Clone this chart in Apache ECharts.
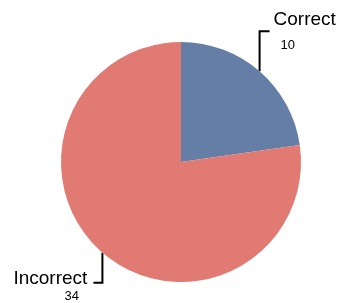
<!DOCTYPE html>
<html>
<head>
<meta charset="utf-8">
<script src="https://cdn.jsdelivr.net/npm/echarts@6/dist/echarts.min.js"></script>
<style>
  html, body { margin: 0; padding: 0; background: #fff; }
  #plot { width: 342px; height: 303px; }
</style>
</head>
<body>
<div id="plot"></div>
<script>
// data
const categories = ['Correct', 'Incorrect'];
const counts = [10, 34];
const sliceColors = ['#647ea6', '#e07a72'];

// guide line bends + label placement, relative to the slice edge point
const guides = [
    {dy: -40, dx: 10, lx: 14, ly: -63, pad: 7, gap: 31},
    {dy: 30, dx: -9, lx: -89, ly: 15, pad: 51, gap: 13}
];

let chart = echarts.init(document.getElementById('plot'));

let pieData = categories.map(function (name, i) {
    return {
        name: name,
        value: counts[i],
        itemStyle: {color: sliceColors[i]},
        label: {
            rich: {
                n: {fontSize: 19, lineHeight: 22, color: '#000', fontFamily: 'Liberation Sans, Arial'},
                v: {fontSize: 13, lineHeight: guides[i].gap, color: '#000', fontFamily: 'Liberation Sans, Arial',
                    padding: [0, 0, 0, guides[i].pad]}
            }
        }
    };
});

chart.setOption({
    animation: false,
    series: [{
        type: 'pie',
        center: [181, 162],
        radius: 120,
        startAngle: 90,
        clockwise: true,
        silent: true,
        data: pieData,
        label: {
            show: true,
            position: 'outside',
            overflow: 'none',
            width: 120,
            formatter: '{n|{b}}\n{v|{c}}'
        },
        labelLine: {
            show: true,
            lineStyle: {color: '#000', width: 2}
        },
        labelLayout: function (params) {
            let g = guides[params.dataIndex];
            let p0 = params.labelLinePoints[0];
            let p1 = [p0[0], p0[1] + g.dy];
            let p2 = [p0[0] + g.dx, p0[1] + g.dy];
            return {
                x: p0[0] + g.lx,
                y: p0[1] + g.ly,
                align: 'left',
                verticalAlign: 'top',
                labelLinePoints: [p0, p1, p2]
            };
        }
    }]
});
</script>
</body>
</html>
